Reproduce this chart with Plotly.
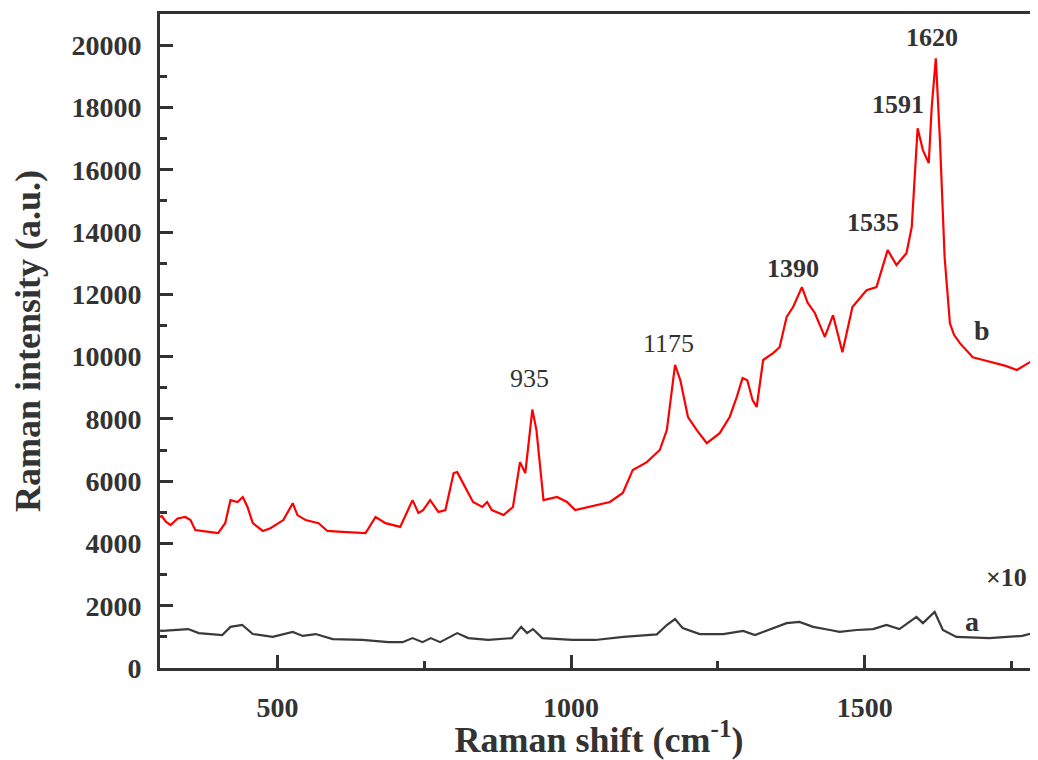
import plotly.graph_objects as go

# Spectrum b (red), Raman shift (cm-1) and intensity (a.u.)
b_shift = [300, 303, 310, 318, 330, 343, 352, 360, 380, 399, 411, 420, 432, 441, 449, 458, 475, 488, 510, 526, 534, 548,
           570, 585, 610, 650, 667, 684, 709, 730, 740, 748, 760, 774, 786, 800, 806, 820, 833, 849, 857, 865,
           885, 901, 913, 922, 934, 941, 953, 976, 993, 1007, 1032, 1066, 1088, 1105, 1129, 1151, 1163, 1177,
           1186, 1199, 1214, 1231, 1253, 1270, 1282, 1292, 1300, 1309, 1316, 1327, 1344, 1355, 1367, 1378, 1393,
           1403, 1415, 1432, 1446, 1462, 1479, 1503, 1520, 1539, 1554, 1571, 1580, 1590, 1599, 1609, 1614, 1621,
           1628, 1636, 1645, 1652, 1662, 1684, 1700, 1724, 1740, 1759, 1781, 1795]
b_int = [4850, 4880, 4700, 4590, 4800, 4850, 4750, 4430, 4380, 4330, 4650, 5390, 5330, 5490, 5170, 4650, 4400, 4490,
         4750, 5290, 4910, 4750, 4650, 4400, 4370, 4330, 4850, 4650, 4530, 5390, 4980, 5070, 5390, 5010, 5070,
         6260, 6290, 5810, 5330, 5170, 5330, 5070, 4910, 5170, 6610, 6260, 8300, 7640, 5390, 5490, 5330, 5070,
         5170, 5330, 5620, 6360, 6610, 7000, 7640, 9730, 9240, 8060, 7640, 7220, 7540, 8060, 8700, 9310, 9240,
         8600, 8380, 9890, 10110, 10300, 11270, 11590, 12230, 11720, 11400, 10630, 11330, 10140, 11590, 12130,
         12230, 13420, 12940, 13320, 14160, 17330, 16630, 16210, 18000, 19580, 16950, 13190, 11070, 10700, 10430,
         9980, 9900, 9790, 9700, 9570, 9820, 9890]

# Spectrum a (black, x10)
a_shift = [300, 304, 348, 366, 406, 420, 440, 458, 492, 526, 543, 565, 594, 645, 689, 713, 730, 747, 761, 777,
           806, 825, 859, 899, 915, 925, 935, 951, 1002, 1041, 1089, 1146, 1163, 1177, 1190, 1219, 1259, 1293,
           1313, 1339, 1367, 1389, 1412, 1441, 1457, 1486, 1514, 1537, 1559, 1588, 1599, 1619, 1633, 1656, 1712,
           1768, 1795]
a_int = [1200, 1190, 1250, 1120, 1060, 1320, 1380, 1090, 1000, 1160, 1030, 1090, 930, 900, 830, 830, 960, 830,
         960, 830, 1120, 960, 900, 960, 1320, 1120, 1250, 960, 900, 900, 1000, 1080, 1380, 1570, 1280, 1090,
         1090, 1190, 1060, 1250, 1440, 1480, 1320, 1220, 1160, 1220, 1250, 1380, 1250, 1640, 1440, 1800, 1220,
         1000, 960, 1030, 1160]

# Peak labels: text, x, y, bold
peak_text = ["935", "1175", "1390", "1535", "1591", "1620"]
peak_x = [930, 1165, 1378, 1514, 1556, 1614]
peak_y = [9310, 10430, 12840, 14320, 18100, 20260]
peak_bold = [False, False, True, True, True, True]

FONT = "Liberation Serif"
INK = "#333333"

fig = go.Figure()
fig.add_trace(go.Scatter(x=a_shift, y=a_int, mode="lines",
                         line=dict(color="#3a3a3a", width=2.2), showlegend=False))
fig.add_trace(go.Scatter(x=b_shift, y=b_int, mode="lines",
                         line=dict(color="#ff0000", width=2.2), showlegend=False))

for t, x, y, bold in zip(peak_text, peak_x, peak_y, peak_bold):
    fig.add_annotation(x=x, y=y, text=f"<b>{t}</b>" if bold else t, showarrow=False,
                       font=dict(family=FONT, size=26, color=INK))

fig.add_annotation(x=1699, y=10850, text="<b>b</b>", showarrow=False,
                   font=dict(family=FONT, size=28, color=INK))
fig.add_annotation(x=1682, y=1500, text="<b>a</b>", showarrow=False,
                   font=dict(family=FONT, size=28, color=INK))
fig.add_annotation(x=1742, y=2920, text="<b>×10</b>", showarrow=False,
                   font=dict(family=FONT, size=26, color=INK))

fig.update_layout(
    width=1030, height=752,
    margin=dict(l=152, r=0, t=6, b=92),
    paper_bgcolor="white", plot_bgcolor="white",
    font=dict(family=FONT, color=INK),
    xaxis=dict(
        range=[300, 1795], tick0=0, dtick=500,
        ticks="inside", ticklen=13, tickwidth=2.5, tickcolor=INK,
        minor=dict(dtick=250, ticks="inside", ticklen=7, tickwidth=2.5, tickcolor=INK),
        showline=True, linewidth=3, linecolor=INK, mirror=True,
        showgrid=False, zeroline=False,
        tickfont=dict(family=FONT, size=28, color=INK, weight="bold"),
        tickformat="d",
        ticklabelstandoff=12,
        title=dict(text="<b>Raman shift (cm<sup>-1</sup>)</b>", standoff=10,
                   font=dict(family=FONT, size=36, color=INK)),
        automargin=False,
    ),
    yaxis=dict(
        range=[0, 21000], tick0=0, dtick=2000,
        ticks="inside", ticklen=13, tickwidth=2.5, tickcolor=INK,
        minor=dict(dtick=1000, ticks="inside", ticklen=7, tickwidth=2.5, tickcolor=INK),
        showline=True, linewidth=3, linecolor=INK, mirror=False,
        showgrid=False, zeroline=False,
        tickfont=dict(family=FONT, size=28, color=INK, weight="bold"),
        tickformat="d",
        ticklabelstandoff=10,
        title=dict(text="<b>Raman intensity (a.u.)</b>", standoff=20,
                   font=dict(family=FONT, size=36, color=INK)),
        automargin=False,
    ),
)

fig.write_html("out.html")
